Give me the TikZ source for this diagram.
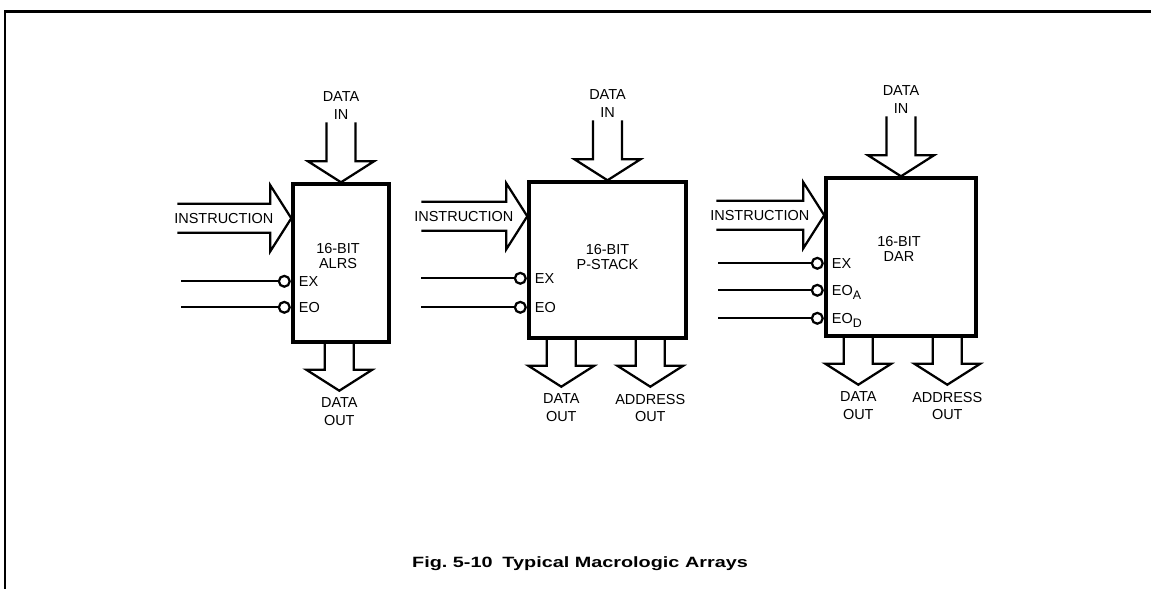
\documentclass[tikz,border=0pt]{standalone}
\usepackage{fontspec}
\setmainfont{Liberation Sans}
\usetikzlibrary{calc,positioning}
\newcommand{\lowsub}[1]{\raisebox{-3pt}{\fontsize{8.8}{9}\selectfont #1}}
\tikzset{
  base/.style={font=\fontsize{10.3}{12.5}\selectfont, align=center, inner sep=1pt},
  blk/.style={rectangle, draw, line width=2.4pt, inner sep=0pt},
  tag/.style={base, font=\fontsize{10.3}{10.5}\selectfont},
  lbl/.style={base},
  sig/.style={line width=1.6pt},
  bub/.style={circle, draw, line width=1.6pt, fill=white, minimum size=0.27cm, inner sep=0pt},
  busline/.style={line width=1.6pt, line join=miter},
  bus/.pic={
    \draw[busline] (-14.5,0) -- (-14.5,{21-#1}) -- (-33,{21-#1}) -- (0,-#1)
      -- (33,{21-#1}) -- (14.5,{21-#1}) -- (14.5,0);
    \coordinate (-base) at (0,{21-#1});
    \coordinate (-tip) at (0,-#1);
  },
}
\begin{document}
\begin{tikzpicture}[x=0.025cm, y=0.025cm]
  \useasboundingbox (0,0) rectangle (1151,-589);
  % frame
  \draw[line width=1.5pt] (5,-589) -- (5,-11.5) -- (1151,-11.5);
  % the three arrays
  \node[blk, minimum width=2.4cm, minimum height=3.95cm] (alrs) at (341,-263) {};
  \node[blk, minimum width=3.925cm, minimum height=3.9cm] (pstack) at (607.5,-260) {};
  \node[blk, minimum width=3.75cm, minimum height=3.95cm] (dar) at (901,-257) {};
  \node[tag] (alrs-t) at ($(alrs.north)+(-3,-74)$) {16-BIT\\ALRS};
  \node[tag] (pstack-t) at ($(pstack.north)+(0,-77)$) {16-BIT\\P-STACK};
  \node[tag] (dar-t) at ($(dar.north)+(-2,-73)$) {16-BIT\\DAR};
  % data in
  \foreach \b in {alrs,pstack,dar}{
    \coordinate (\b-d) at ($(\b.north)+(0,60)$);
    \pic (\b-db) at (\b-d) {bus=60};
    \node[lbl, above=1pt of \b-d] (\b-dl) {DATA\\IN};
  }
  % instruction
  \foreach \b/\l/\y in {alrs/114/36,pstack/106/36,dar/108/39}{
    \coordinate (\b-i) at ($(\b.north west)+(-\l,-\y)$);
    \pic[rotate=90] (\b-ib) at (\b-i) {bus=\l};
    \node[lbl] (\b-il) at ($(\b-i)!0.5!(\b-ib-base)$) {INSTRUCTION};
  }
  % enables
  \foreach \b/\l/\y/\t [count=\k] in {alrs/110/99/EX,alrs/110/125/EO,pstack/106/98/EX,pstack/106/127/EO,
      dar/106/87/EX,dar/106/114/EO\lowsub{A},dar/106/142/EO\lowsub{D}}{
    \coordinate (\b-s\k) at ($(\b.north west)+(-\l,-\y)$);
    \node[bub] (\b-c\k) at ($(\b.north west)+(-7,-\y)$) {};
    \draw[sig] (\b-s\k) -- (\b-c\k);
    \node[lbl, anchor=base west] (\b-n\k) at ($(\b.north west)+(6,-\y-5)$) {\t};
  }
  % outputs
  \foreach \b/\x/\t [count=\k] in {alrs/48/DATA,pstack/34/DATA,pstack/123/ADDRESS,dar/34/DATA,dar/123/ADDRESS}{
    \pic (\b-o\k) at ($(\b.south west)+(\x,0)$) {bus=47};
    \node[lbl, below=4pt of \b-o\k-tip] (\b-ol\k) {\t\\OUT};
  }
  \node[font=\bfseries\fontsize{10.6}{12}\selectfont, xscale=1.33, transform shape] (cap) at (580,-564)
    {Fig.~5-10\enspace Typical Macrologic Arrays};
\end{tikzpicture}
\end{document}
